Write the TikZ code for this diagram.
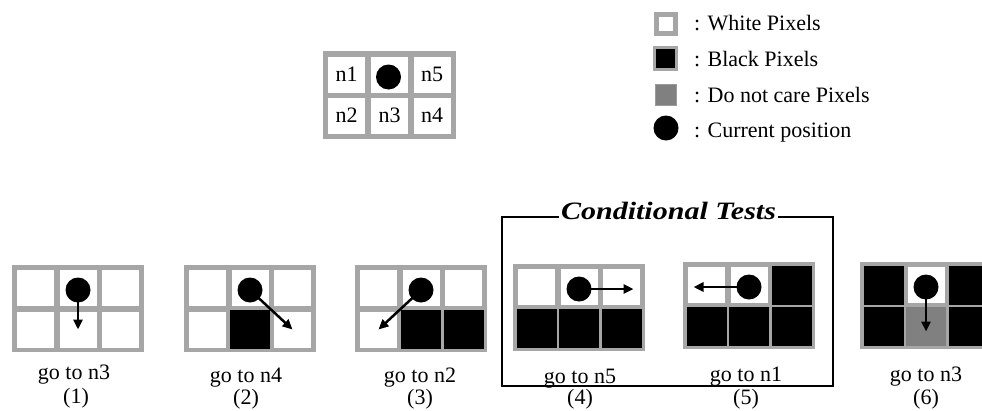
\documentclass[tikz,border=0pt]{standalone}
\usepackage{fontspec}
\setmainfont{Liberation Serif}
\usetikzlibrary{arrows.meta}
\definecolor{bordergray}{RGB}{166,166,166}
\definecolor{dcgray}{RGB}{128,128,128}
\tikzset{
  cw/.style={rectangle, draw=none, fill=white, minimum width=37pt, minimum height=36pt, inner sep=0pt, font=\fontsize{22}{26}\selectfont},
  cb/.style={cw, fill=black, minimum width=40pt, minimum height=39pt},
  cd/.style={cw, fill=dcgray, minimum width=40pt, minimum height=39pt},
  dot/.style={circle, fill=black, draw=none, minimum size=25pt, inner sep=0pt},
  arr/.style={line width=2.5pt, -{Triangle[length=10pt,width=9pt]}},
  lbl/.style={anchor=base, inner sep=0pt, font=\fontsize{22}{26}\selectfont},
  legtxt/.style={anchor=base west, inner sep=0pt, font=\fontsize{22}{26}\selectfont},
  boxline/.style={line width=2.2pt, black}
}
\newcommand\pixgrid[9]{%
  \fill[bordergray] (#2,#3) rectangle ++(132,87);
  \node[#4] (#1-a) at ({#2+23.5},{#3+23}) {};
  \node[#5] (#1-b) at ({#2+66},{#3+23}) {};
  \node[#6] (#1-c) at ({#2+108.5},{#3+23}) {};
  \node[#7] (#1-d) at ({#2+23.5},{#3+64.5}) {};
  \node[#8] (#1-e) at ({#2+66},{#3+64.5}) {};
  \node[#9] (#1-f) at ({#2+108.5},{#3+64.5}) {};
  \node[dot, yshift=-2pt] (#1-dot) at (#1-b) {};
}
\begin{document}
\begin{tikzpicture}[x=1pt, y=-1pt]
\useasboundingbox[fill=white] (0,0) rectangle (982,410);

% top reference grid
\fill[bordergray] (323,51) rectangle ++(133,88);
\node[cw] (t-a) at (346.5,74.5) {n1};
\node[cw] (t-b) at (389.5,74.5) {};
\node[cw] (t-c) at (432,74.5) {n5};
\node[cw] (t-d) at (346.5,115.5) {n2};
\node[cw] (t-e) at (389.5,115.5) {n3};
\node[cw] (t-f) at (432,115.5) {n4};
\node[dot] (t-dot) at (388.5,77) {};

% legend
\node[rectangle, fill=white, draw=bordergray, line width=5pt, minimum size=19pt, inner sep=0pt] (lw) at (666,24) {};
\node[rectangle, fill=black, draw=bordergray, line width=3pt, minimum size=22pt, inner sep=0pt] (lb) at (665.5,58.5) {};
\node[rectangle, fill=dcgray, draw=bordergray!70!dcgray, line width=1pt, minimum size=21pt, inner sep=0pt] (ld) at (665.5,94.5) {};
\node[dot] (lc) at (666,128) {};
\node[legtxt] (lwt) at (694,30) {: White Pixels};
\node[legtxt] (lbt) at (694,66) {: Black Pixels};
\node[legtxt] (ldt) at (694,102) {: Do not care Pixels};
\node[legtxt] (lct) at (694,137) {: Current position};

% grids
\pixgrid{g1}{12}{265}{cw}{cw}{cw}{cw}{cw}{cw}
\pixgrid{g2}{184}{265}{cw}{cw}{cw}{cw}{cb}{cw}
\pixgrid{g3}{355}{265}{cw}{cw}{cw}{cw}{cb}{cb}
\pixgrid{g4}{513}{264}{cw}{cw}{cw}{cb}{cb}{cb}
\pixgrid{g5}{683}{262}{cw}{cw}{cb}{cb}{cb}{cb}
\pixgrid{g6}{860}{262}{cb}{cw}{cb}{cb}{cd}{cb}

\draw[arr] (g1-dot.center) -- (g1-e.center);
\draw[arr] (g2-dot.center) -- (g2-f.center);
\draw[arr] (g3-dot.center) -- (g3-d.center);
\draw[arr, shorten >=-12pt] (g4-dot.center) -- (g4-c.center |- g4-dot.center);
\draw[arr, shorten >=-13pt] (g5-dot.center) -- (g5-a.center |- g5-dot.center);
\draw[arr, shorten >=-5pt] (g6-dot.center) -- (g6-e.center);

% labels
\node[lbl] (l1) at (74,379) {go to n3};
\node[lbl] (n1) at (76,403) {(1)};
\node[lbl] (l2) at (246,382) {go to n4};
\node[lbl] (n2) at (246,404.5) {(2)};
\node[lbl] (l3) at (420,382) {go to n2};
\node[lbl] (n3) at (420,404.5) {(3)};
\node[lbl] (l4) at (580,383) {go to n5};
\node[lbl] (n4) at (580,404.5) {(4)};
\node[lbl] (l5) at (746,381) {go to n1};
\node[lbl] (n5) at (746,404.5) {(5)};
\node[lbl] (l6) at (926,381) {go to n3};
\node[lbl] (n6) at (926,404.5) {(6)};

% conditional tests frame
\node[anchor=base, inner sep=2pt] (ct) at (668.5,219.5) {\scalebox{1.2}[1]{\fontsize{25}{29}\selectfont\bfseries\itshape Conditional Tests}};
\coordinate (ctl) at (502,217);
\coordinate (cbl) at (502,386);
\coordinate (cbr) at (833,386);
\coordinate (ctr) at (833,217);
\draw[boxline] (ct.west |- ctl) -- (ctl) -- (cbl) -- (cbr) -- (ctr) -- (ct.east |- ctr);
\end{tikzpicture}
\end{document}
